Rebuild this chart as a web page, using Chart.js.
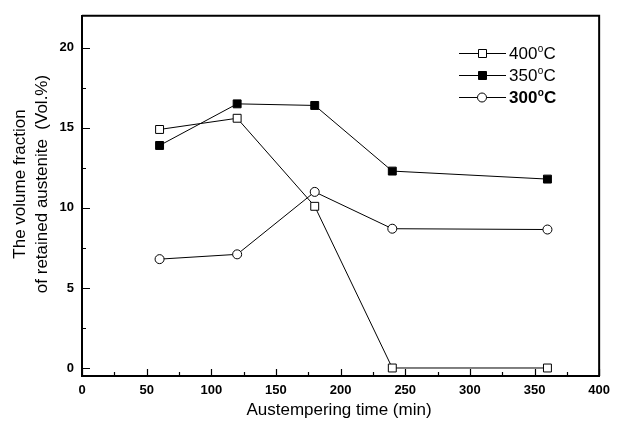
<!DOCTYPE html>
<html>
<head>
<meta charset="utf-8">
<script src="https://cdn.jsdelivr.net/npm/chart.js@4/dist/chart.umd.min.js"></script>
<style>
  html, body { margin: 0; padding: 0; background: #fff; }
</style>
</head>
<body>
<canvas id="chart" width="617" height="425"></canvas>
<script>
// austempering time (min)
const times = [60, 120, 180, 240, 360];
// retained austenite (Vol.%)
const frac400 = [14.9, 15.6, 10.1, 0, 0];
const frac350 = [13.9, 16.5, 16.4, 12.3, 11.8];
const frac300 = [6.8, 7.1, 11.0, 8.7, 8.65];

const xTicks = [0, 25, 50, 75, 100, 125, 150, 175, 200, 225, 250, 275, 300, 325, 350, 375, 400];
const yTicks = [0, 2.5, 5, 7.5, 10, 12.5, 15, 17.5, 20];
const legendTemps = ["400", "350", "300"];
const xTitle = "Austempering time (min)";
const yTitle = ["The volume fraction", "of retained austenite  (Vol.%)"];

const FONT = "'Liberation Sans', Arial, sans-serif";

const toPoints = (ys) => times.map((t, i) => ({ x: t, y: ys[i] }));

// inward ticks, top/right frame, axis titles and the legend
const framePlugin = {
  id: "frame",
  afterDraw(chart) {
    const { ctx, chartArea: a, scales } = chart;
    ctx.save();
    ctx.strokeStyle = "#000";
    ctx.lineWidth = 2;
    ctx.beginPath();
    ctx.moveTo(a.left, a.top);
    ctx.lineTo(a.right, a.top);
    ctx.lineTo(a.right, a.bottom);
    ctx.stroke();

    ctx.lineWidth = 1.2;
    ctx.beginPath();
    xTicks.forEach((v) => {
      const px = Math.round(scales.x.getPixelForValue(v)) + 0.5;
      const len = v % 50 === 0 ? 7 : 4;
      ctx.moveTo(px, a.bottom);
      ctx.lineTo(px, a.bottom - len);
    });
    yTicks.forEach((v) => {
      const py = Math.round(scales.y.getPixelForValue(v)) + 0.5;
      const len = v % 5 === 0 ? 8 : 4;
      ctx.moveTo(a.left, py);
      ctx.lineTo(a.left + len, py);
    });
    ctx.stroke();

    // axis titles
    ctx.fillStyle = "#000";
    ctx.font = "17px " + FONT;
    ctx.textAlign = "center";
    ctx.textBaseline = "middle";
    ctx.fillText(xTitle, 339, 410);
    ctx.save();
    ctx.translate(20, 184);
    ctx.rotate(-Math.PI / 2);
    ctx.fillText(yTitle[0], 0, 0);
    ctx.fillText(yTitle[1], 0, 22);
    ctx.restore();

    // legend
    const rowY = [53, 75, 97];
    chart.data.datasets.forEach((ds, i) => {
      const y = rowY[i];
      ctx.strokeStyle = "#000";
      ctx.lineWidth = 1;
      ctx.beginPath();
      ctx.moveTo(459, y + 0.5);
      ctx.lineTo(506, y + 0.5);
      ctx.stroke();
      ctx.fillStyle = ds.pointBackgroundColor;
      ctx.beginPath();
      if (ds.pointStyle === "circle") {
        ctx.arc(482, y + 0.5, 4.5, 0, Math.PI * 2);
      } else {
        ctx.rect(478.5, y - 3.5, 8, 8);
      }
      ctx.fill();
      ctx.stroke();

      const weight = i === 2 ? "bold " : "";
      ctx.fillStyle = "#000";
      ctx.textBaseline = "middle";
      ctx.textAlign = "left";
      ctx.font = weight + "17px " + FONT;
      let x = 509;
      ctx.fillText(legendTemps[i], x, y + 1);
      x += ctx.measureText(legendTemps[i]).width;
      ctx.font = weight + "10px " + FONT;
      ctx.fillText("o", x + 0.5, y - 4);
      x += ctx.measureText("o").width + 0.5;
      ctx.font = weight + "17px " + FONT;
      ctx.fillText("C", x, y + 1);
    });
    ctx.restore();
  },
};

const line = (label, data, style, fill, radius) => ({
  label,
  data: toPoints(data),
  borderColor: "#000",
  borderWidth: 1,
  pointStyle: style,
  pointBackgroundColor: fill,
  pointBorderColor: "#000",
  pointBorderWidth: 1,
  pointRadius: radius,
  tension: 0,
});

new Chart(document.getElementById("chart"), {
  type: "line",
  data: {
    datasets: [
      line("400°C", frac400, "rect", "#fff", 5.6),
      line("350°C", frac350, "rect", "#000", 5.6),
      line("300°C", frac300, "circle", "#fff", 4.5),
    ],
  },
  options: {
    responsive: false,
    animation: false,
    events: [],
    layout: { padding: { top: 15, right: 11, left: 0, bottom: 0 } },
    plugins: { legend: { display: false }, tooltip: { enabled: false } },
    scales: {
      x: {
        type: "linear",
        min: 0,
        max: 400,
        afterBuildTicks: (s) => { s.ticks = xTicks.filter((v) => v % 50 === 0).map((v) => ({ value: v })); },
        afterFit: (s) => { s.height = 49; },
        grid: { drawOnChartArea: false, drawTicks: false },
        border: { color: "#000", width: 2 },
        ticks: {
          color: "#000",
          padding: 7,
          maxRotation: 0,
          autoSkip: false,
          font: { family: FONT, size: 13, weight: "bold" },
        },
      },
      y: {
        min: -0.5,
        max: 22,
        afterBuildTicks: (s) => { s.ticks = yTicks.filter((v) => v % 5 === 0).map((v) => ({ value: v })); },
        afterFit: (s) => { s.width = 82; },
        grid: { drawOnChartArea: false, drawTicks: false },
        border: { color: "#000", width: 2 },
        ticks: {
          color: "#000",
          padding: 8,
          autoSkip: false,
          font: { family: FONT, size: 13, weight: "bold" },
        },
      },
    },
  },
  plugins: [framePlugin],
});
</script>
</body>
</html>
